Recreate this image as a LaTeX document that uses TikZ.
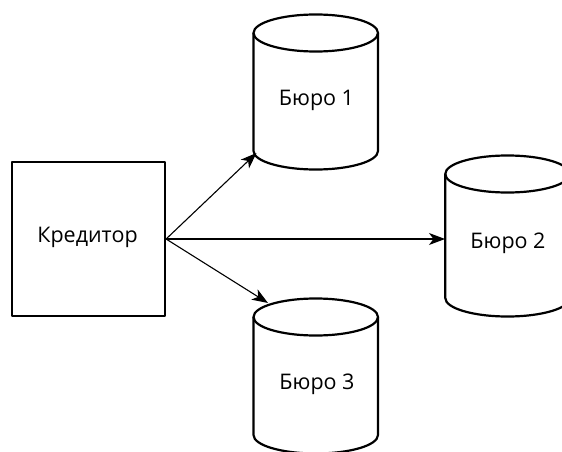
\documentclass[tikz,border=0pt]{standalone}
\usepackage{fontspec}
\setmainfont{Open Sans}
\usetikzlibrary{arrows.meta}
\tikzset{
  shapeline/.style={draw=black, line width=2.2pt, line join=round},
  conn/.style={draw=black, line width=1.1pt, -{Stealth[length=16pt,width=12pt,inset=4.5pt]}},
  lbl/.style={font=\fontsize{21.5}{24}\selectfont, inner sep=0pt, text=black},
}
\newcommand{\mycyl}[5]{% cx, top cy, bottom cy, rx, ry
  \draw[shapeline] (#1,#2) ellipse [x radius=#4, y radius=#5];
  \draw[shapeline] (#1-#4,#2) -- (#1-#4,#3) arc[start angle=180, end angle=360, x radius=#4, y radius=-#5] -- (#1+#4,#2);
}
\begin{document}
\begin{tikzpicture}[x=1pt,y=-1pt]
\useasboundingbox (0,0) rectangle (562,452);
\clip (0,0) rectangle (562,452);
% creditor box
\node[shapeline, minimum width=153pt, minimum height=154pt, inner sep=0pt] (cred) at (88.5,239) {};
\node[lbl] (credtxt) at (87.5,237) {Кредитор};
% cylinders
\mycyl{315.75}{33}{151}{62.25}{18.5}
\mycyl{507.5}{174}{298}{62.25}{18.5}
\mycyl{315.75}{317}{435}{62.25}{18.5}
\node[lbl] (b1) at (316.5,100) {Бюро 1};
\node[lbl] (b2) at (508,243) {Бюро 2};
\node[lbl] (b3) at (317,384) {Бюро 3};
% arrow endpoints
\coordinate (src) at (cred.east);
\coordinate (t1) at (256.5,153);
\coordinate (t2) at (445,239);
\coordinate (t3) at (268,303);
\draw[conn] (src) -- (t1);
\draw[conn] (src) -- (t2);
\draw[conn] (src) -- (t3);
\end{tikzpicture}
\end{document}
